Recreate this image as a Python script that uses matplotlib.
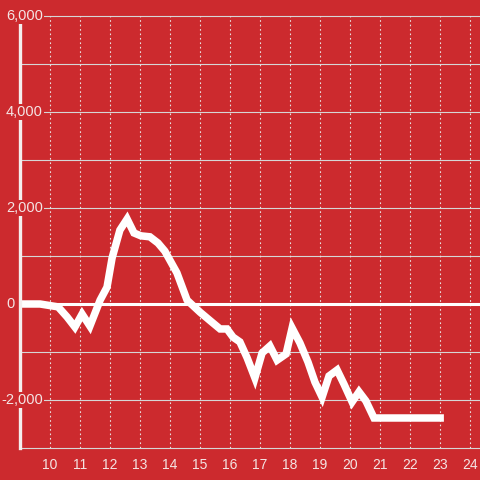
import matplotlib
matplotlib.use("Agg")
import matplotlib.pyplot as plt
import matplotlib.transforms as mtransforms

plt.rcParams['font.family'] = ['Liberation Sans', 'DejaVu Sans']

# hours of the day and running value
hours = [9.0, 9.67, 10.27, 10.57, 10.83, 11.07, 11.33, 11.67, 11.9, 12.07,
         12.33, 12.57, 12.8, 13.03, 13.33, 13.6, 13.83, 14.23, 14.57, 15.0,
         15.4, 15.67, 15.9, 16.1, 16.33, 16.57, 16.83, 17.07, 17.33, 17.57,
         17.87, 18.07, 18.33, 18.6, 18.83, 19.07, 19.3, 19.57, 19.8, 20.07,
         20.3, 20.53, 20.8, 23.13]
values = [0, 0, -60, -270, -480, -210, -460, 80, 350, 960,
          1540, 1770, 1480, 1420, 1400, 1270, 1100, 650, 80, -170,
          -380, -520, -520, -690, -790, -1120, -1540, -1020, -875, -1170,
          -1040, -500, -810, -1210, -1625, -1940, -1500, -1375, -1670, -2040,
          -1830, -2020, -2375, -2375]

x_ticks = list(range(10, 25))
y_labels = [6000, 4000, 2000, 0, -2000]
y_grid = list(range(-3000, 7000, 1000))

bg = '#cc2a2e'
txt = '#f4e4e4'

fig = plt.figure(figsize=(4.8, 4.8), dpi=100, facecolor=bg)
ax = fig.add_axes([20 / 480, 32 / 480, 460 / 480, 432 / 480])
ax.set_facecolor(bg)
ax.set_xlim(9, 9 + 460 / 30)
ax.set_ylim(-3000, 6000)

for v in y_grid:
    if v == 0:
        ax.axhline(v, color='white', lw=2.2, zorder=2)
    else:
        ax.axhline(v, color='#d6d6d6', lw=0.8, zorder=1, clip_on=False)
for h in x_ticks:
    ax.axvline(h, color='#e8e0e0', lw=0.8, ls=(0, (1.5, 2.5)), zorder=1)

ax.plot(hours, values, color='white', lw=5.4, solid_joinstyle='miter',
        solid_capstyle='butt', zorder=3)

for s in ['top', 'right', 'bottom']:
    ax.spines[s].set_visible(False)
ax.spines['left'].set_color('#f4eeee')
ax.spines['left'].set_linewidth(2.4)
ax.spines['left'].set_zorder(4)

ax.set_xticks(x_ticks)
ax.set_xticklabels([str(h) for h in x_ticks])
ax.tick_params(axis='x', length=0, pad=7, labelsize=10, labelcolor=txt)
ax.set_yticks([])

trans = mtransforms.blended_transform_factory(ax.transAxes, ax.transData)
for v in y_labels:
    # the short "0" label sits left of the axis line
    xpos = -5 / 460 if v == 0 else 23 / 460
    ax.text(xpos, v, f'{v:,}', transform=trans, ha='right', va='center',
            fontsize=10.5, color=txt, zorder=6, clip_on=False,
            bbox=dict(facecolor=bg, edgecolor='none', pad=1.0))

fig.savefig('out.png', dpi=100, facecolor=bg)
